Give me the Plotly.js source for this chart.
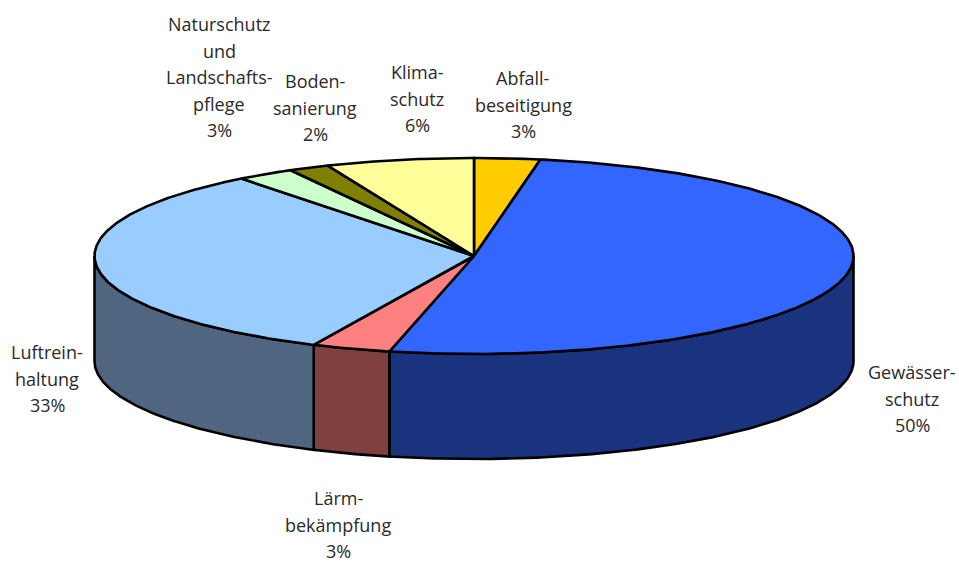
<!DOCTYPE html>
<html>
<head>
<meta charset="utf-8">
<script src="https://cdn.plot.ly/plotly-3.0.0.min.js"></script>
<style>html,body{margin:0;padding:0;background:#fff}#chart{width:959px;height:563px}</style>
</head>
<body>
<div id="chart"></div>
<script>
// Clockwise from 12 o'clock
const categories = ['Abfallbeseitigung','Gewässerschutz','Lärmbekämpfung','Luftreinhaltung','Naturschutz und Landschaftspflege','Bodensanierung','Klimaschutz'];
const sliceShares = [2.8, 50.78, 3.36, 32.56, 2.47, 1.73, 6.3];
const percentLabels = ['3%','50%','3%','33%','3%','2%','6%'];
const labelLines = [
  ['Abfall-','beseitigung'],
  ['Gewässer-','schutz'],
  ['Lärm-','bekämpfung'],
  ['Luftrein-','haltung'],
  ['Naturschutz','und','Landschafts-','pflege'],
  ['Boden-','sanierung'],
  ['Klima-','schutz']
];
const topColors  = ['#ffcc00','#3366ff','#ff8080','#99ccff','#ccffcc','#808000','#ffff99'];
const sideColors = ['#806600','#1a337f','#804040','#506680','#668066','#404000','#80804c'];
const labelCenterX = [523, 912, 338, 47, 219, 315, 417];
const labelFirstY  = [78, 372, 498, 352, 24, 81, 72];
const lineStep = 26.5;

const cx = 474, cy = 256, rx = 379.5, ry = 98, depth = 105;
const rad = d => d * Math.PI / 180;
const px = a => cx + rx * Math.sin(rad(a));
const py = (a, dz) => cy - ry * Math.cos(rad(a)) + dz;

const total = sliceShares.reduce((s, v) => s + v, 0);
const edges = [0];
sliceShares.forEach(v => edges.push(edges[edges.length - 1] + v / total * 360));

function arc(a0, a1, dz) {
  const n = Math.max(2, Math.ceil(Math.abs(a1 - a0) / 0.5));
  const xs = [], ys = [];
  for (let i = 0; i <= n; i++) {
    const a = a0 + (a1 - a0) * i / n;
    xs.push(px(a)); ys.push(py(a, dz));
  }
  return {xs, ys};
}

const traces = [];
const poly = (xs, ys, fill, name) => traces.push({
  type: 'scatter', mode: 'lines', x: xs, y: ys, fill: 'toself', fillcolor: fill, name,
  line: {color: '#000', width: 2.6, shape: 'linear'}, hoverinfo: 'name', showlegend: false
});

// Outer walls: only the front half of the rim (90°..270°) is visible
categories.forEach((c, i) => {
  const a0 = Math.max(edges[i], 90), a1 = Math.min(edges[i + 1], 270);
  if (a1 <= a0) return;
  const top = arc(a0, a1, 0), bot = arc(a1, a0, depth);
  poly(top.xs.concat(bot.xs, [top.xs[0]]), top.ys.concat(bot.ys, [top.ys[0]]), sideColors[i], c);
});
// Top faces
categories.forEach((c, i) => {
  const t = arc(edges[i], edges[i + 1], 0);
  poly([cx].concat(t.xs, [cx]), [cy].concat(t.ys, [cy]), topColors[i], c);
});

const annotations = [];
categories.forEach((c, i) => {
  const lines = labelLines[i].concat([percentLabels[i]]);
  lines.forEach((text, k) => {
    annotations.push({
      x: labelCenterX[i], y: labelFirstY[i] + k * lineStep, xref: 'x', yref: 'y',
      text, showarrow: false, xanchor: 'center', yanchor: 'middle',
      font: {family: '"Open Sans", "Noto Sans", sans-serif', size: 18, color: '#2a2a2a'}
    });
  });
});

Plotly.newPlot('chart', traces, {
  width: 959, height: 563,
  margin: {l: 0, r: 0, t: 0, b: 0},
  paper_bgcolor: '#fff', plot_bgcolor: '#fff',
  xaxis: {range: [0, 959], visible: false, fixedrange: true},
  yaxis: {range: [563, 0], visible: false, fixedrange: true},
  showlegend: false,
  annotations
}, {displayModeBar: false, staticPlot: true});
</script>
</body>
</html>
